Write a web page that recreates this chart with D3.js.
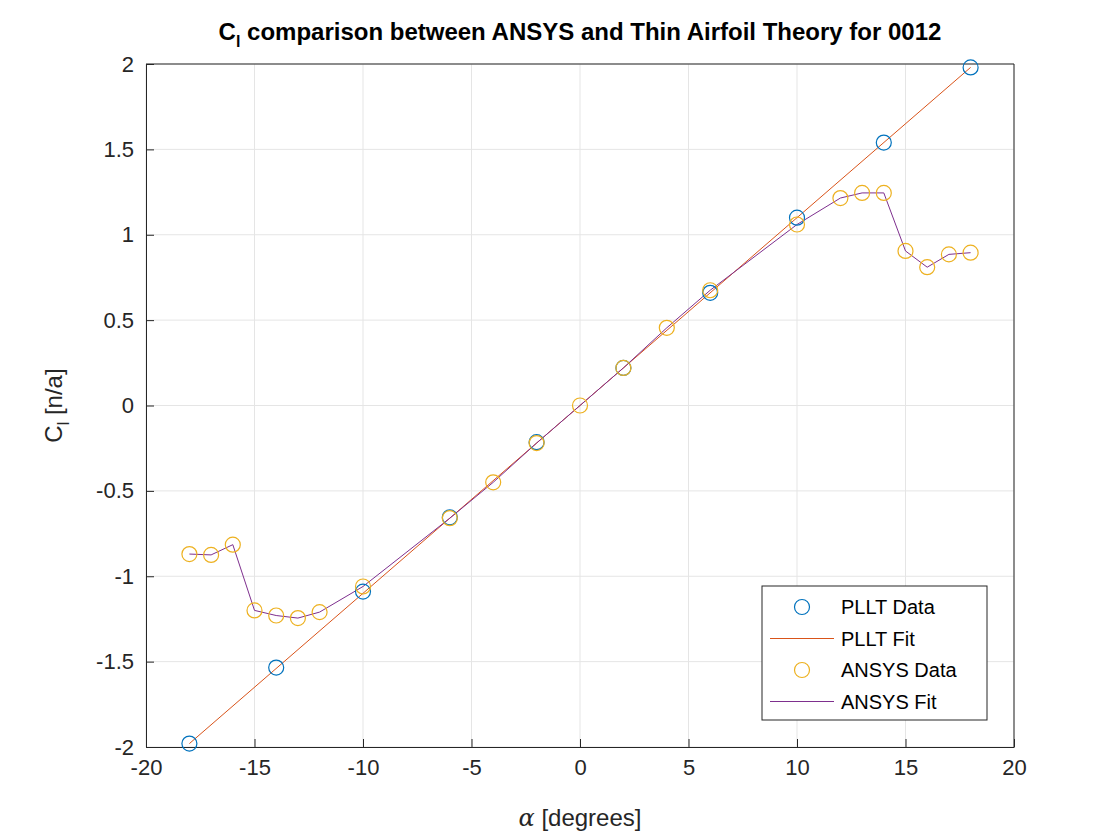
<!DOCTYPE html>
<html><head><meta charset="utf-8">
<script src="https://cdn.jsdelivr.net/npm/d3@7"></script>
<style>body{margin:0;background:#fff;font-family:"Liberation Sans",Arial,sans-serif}</style>
</head><body><div id="chart"></div>
<script>
const plltAlpha = [-18, -14, -10, -6, -2, 2, 6, 10, 14, 18];
const plltCl = [-1.98, -1.535, -1.09, -0.655, -0.215, 0.22, 0.66, 1.10, 1.54, 1.98];
const fitAlpha = [-18, 18];
const fitCl = [-1.98, 1.98];
const ansysAlpha = [-18, -17, -16, -15, -14, -13, -12, -10, -6, -4, -2, 0, 2, 4, 6, 10, 12, 13, 14, 15, 16, 17, 18];
const ansysCl = [-0.87, -0.875, -0.815, -1.2, -1.23, -1.245, -1.21, -1.06, -0.66, -0.45, -0.22, 0, 0.22, 0.455, 0.675, 1.06, 1.215, 1.245, 1.245, 0.905, 0.81, 0.885, 0.895];
const xTicks = [-20, -15, -10, -5, 0, 5, 10, 15, 20];
const yTicks = [-2, -1.5, -1, -0.5, 0, 0.5, 1, 1.5, 2];

const W = 1120, H = 840, L = 146, R = 1014, T = 64, B = 747;
const svg = d3.select('#chart').append('svg').attr('width', W).attr('height', H);
const x = d3.scaleLinear().domain([-20, 20]).range([L, R]);
const y = d3.scaleLinear().domain([-2, 2]).range([B, T]);

// grid
svg.append('g').selectAll('line').data(xTicks).join('line')
  .attr('x1', d => x(d)).attr('x2', d => x(d)).attr('y1', T).attr('y2', B)
  .attr('stroke', '#e5e5e5');
svg.append('g').selectAll('line').data(yTicks).join('line')
  .attr('y1', d => y(d)).attr('y2', d => y(d)).attr('x1', L).attr('x2', R)
  .attr('stroke', '#e5e5e5');

const fmt = d => String(d);
const xAxis = svg.append('g').attr('transform', `translate(0,${B})`)
  .call(d3.axisBottom(x).tickValues(xTicks).tickSize(-8).tickPadding(12).tickSizeOuter(0).tickFormat(fmt));
const yAxis = svg.append('g').attr('transform', `translate(${L},0)`)
  .call(d3.axisLeft(y).tickValues(yTicks).tickSize(-8).tickPadding(12).tickSizeOuter(0).tickFormat(fmt));
[xAxis, yAxis].forEach(a => {
  a.selectAll('text').attr('font-size', 22).attr('fill', '#262626').attr('font-family', '"Liberation Sans",Arial,sans-serif');
  a.selectAll('line,path').attr('stroke', '#262626');
});
svg.append('path').attr('d', `M${L},${T}H${R}V${B}`).attr('fill', 'none').attr('stroke', '#262626');

const line = d3.line().x(d => x(d[0])).y(d => y(d[1]));
svg.append('path').datum(fitAlpha.map((a, i) => [a, fitCl[i]])).attr('d', line)
  .attr('fill', 'none').attr('stroke', '#D95319').attr('stroke-width', 1);
svg.append('path').datum(ansysAlpha.map((a, i) => [a, ansysCl[i]])).attr('d', line)
  .attr('fill', 'none').attr('stroke', '#7E2F8E').attr('stroke-width', 1);
svg.append('g').selectAll('circle').data(plltAlpha.map((a, i) => [a, plltCl[i]])).join('circle')
  .attr('cx', d => x(d[0])).attr('cy', d => y(d[1])).attr('r', 7.5)
  .attr('fill', 'none').attr('stroke', '#0072BD').attr('stroke-width', 1.2);
svg.append('g').selectAll('circle').data(ansysAlpha.map((a, i) => [a, ansysCl[i]])).join('circle')
  .attr('cx', d => x(d[0])).attr('cy', d => y(d[1])).attr('r', 7.5)
  .attr('fill', 'none').attr('stroke', '#EDB120').attr('stroke-width', 1.2);

// title & labels
const title = svg.append('text').attr('x', (L + R) / 2).attr('y', 40).attr('text-anchor', 'middle')
  .attr('font-size', 24).attr('font-weight', 'bold').attr('fill', '#000');
title.append('tspan').text('C');
title.append('tspan').attr('dy', 7).attr('font-size', 16).text('l');
title.append('tspan').attr('dy', -7).text(' comparison between ANSYS and Thin Airfoil Theory for 0012');

const xl = svg.append('text').attr('x', (L + R) / 2).attr('y', 826).attr('text-anchor', 'middle')
  .attr('font-size', 24).attr('fill', '#262626');
xl.append('tspan').attr('font-family', '"DejaVu Serif",serif').attr('font-style', 'italic').text('α');
xl.append('tspan').text(' [degrees]');
const yl = svg.append('text').attr('transform', `translate(62,${(T + B) / 2}) rotate(-90)`)
  .attr('text-anchor', 'middle').attr('font-size', 24).attr('fill', '#262626');
yl.append('tspan').text('C');
yl.append('tspan').attr('dy', 7).attr('font-size', 16).text('l');
yl.append('tspan').attr('dy', -7).text(' [n/a]');

// legend
const lg = svg.append('g').attr('transform', 'translate(762,586)');
lg.append('rect').attr('width', 225).attr('height', 134).attr('fill', '#fff').attr('stroke', '#262626');
const items = [['PLLT Data', 'c', '#0072BD'], ['PLLT Fit', 'l', '#D95319'], ['ANSYS Data', 'c', '#EDB120'], ['ANSYS Fit', 'l', '#7E2F8E']];
items.forEach((it, i) => {
  const cy = 21 + i * 31.5;
  if (it[1] === 'c') lg.append('circle').attr('cx', 40).attr('cy', cy).attr('r', 7.5).attr('fill', 'none').attr('stroke', it[2]).attr('stroke-width', 1.2);
  else lg.append('line').attr('x1', 8).attr('x2', 72).attr('y1', cy).attr('y2', cy).attr('stroke', it[2]);
  lg.append('text').attr('x', 79).attr('y', cy + 7).attr('font-size', 20).attr('fill', '#000').text(it[0]);
});
</script></body></html>
